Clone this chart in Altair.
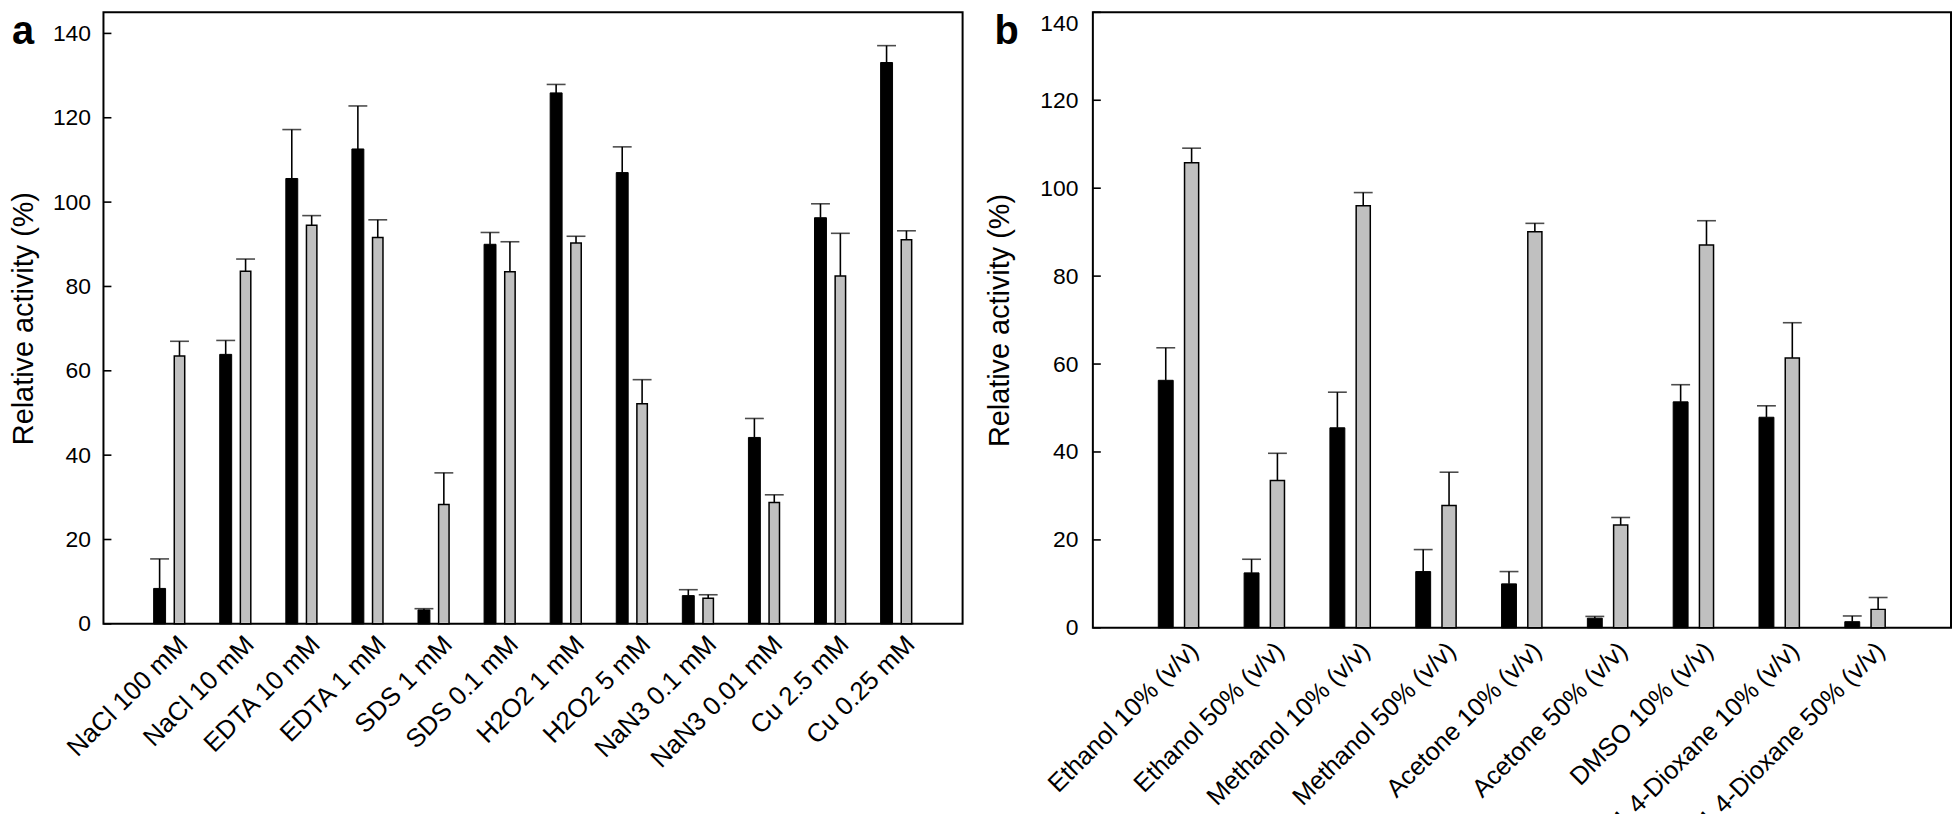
import altair as alt
import pandas as pd

# ---------------- data ----------------
a_cats = ["NaCl 100 mM", "NaCl 10 mM", "EDTA 10 mM", "EDTA 1 mM", "SDS 1 mM",
          "SDS 0.1 mM", "H2O2 1 mM", "H2O2 5 mM", "NaN3 0.1 mM", "NaN3 0.01 mM",
          "Cu 2.5 mM", "Cu 0.25 mM"]
a_black = [8.4, 63.9, 105.6, 112.6, 3.3, 90.0, 125.9, 107.0, 6.7, 44.2, 96.3, 133.1]
a_black_err = [7.0, 3.3, 11.6, 10.2, 0.3, 2.8, 2.0, 6.1, 1.4, 4.5, 3.3, 4.0]
a_grey = [63.5, 83.6, 94.5, 91.6, 28.3, 83.5, 90.3, 52.2, 6.1, 28.8, 82.5, 91.1]
a_grey_err = [3.5, 2.9, 2.3, 4.2, 7.5, 7.1, 1.6, 5.7, 0.8, 1.8, 10.1, 2.1]

b_cats = ["Ethanol 10% (v/v)", "Ethanol 50% (v/v)", "Methanol 10% (v/v)",
          "Methanol 50% (v/v)", "Acetone 10% (v/v)", "Acetone 50% (v/v)",
          "DMSO 10% (v/v)", "1,4-Dioxane 10% (v/v)", "1,4-Dioxane 50% (v/v)"]
b_black = [56.3, 12.5, 45.5, 12.8, 10.0, 2.2, 51.4, 47.9, 1.4]
b_black_err = [7.4, 3.1, 8.1, 5.0, 2.8, 0.4, 3.9, 2.6, 1.3]
b_grey = [105.8, 33.5, 96.0, 27.8, 90.1, 23.4, 87.1, 61.4, 4.2]
b_grey_err = [3.3, 6.2, 3.0, 7.6, 1.9, 1.7, 5.5, 8.0, 2.7]

y_ticks = [0, 20, 40, 60, 80, 100, 120, 140]
y_title = "Relative activity (%)"
FONT = "Liberation Sans"


def panel(cats, black, berr, grey, gerr, *, w, h, ymax, bw, gw, off, cap,
          xfont, xangle, xoff, xpad, ypad, title_x, label, label_x, flush_top):
    xs = alt.Scale(domain=cats, paddingInner=0, paddingOuter=0.5)
    ys = alt.Scale(domain=[0, ymax], nice=False, zero=True)
    xaxis = alt.Axis(title=None, labelAngle=xangle, labelAlign="right",
                     labelBaseline="top", ticks=False, tickSize=0, domain=False,
                     labelPadding=xpad, labelOffset=xoff, labelFontSize=xfont,
                     labelLimit=600, labelColor="black", labelFont=FONT)
    ykw = dict(values=y_ticks, ticks=False, tickSize=0, domain=False, grid=False,
               labelPadding=ypad, labelFontSize=23, labelColor="black",
               labelFont=FONT, title=y_title, titleFontSize=29,
               titleFontWeight="normal", titleFont=FONT, titleColor="black",
               titleX=title_x, titleY=h / 2, titleAngle=-90,
               titleBaseline="bottom", titleAlign="center")
    if flush_top:
        ykw["labelBaseline"] = {"condition": {"test": "datum.value == 140",
                                              "value": "top"},
                                "value": "middle"}
    yaxis = alt.Axis(**ykw)

    X = alt.X("cat:N", scale=xs, sort=cats, axis=xaxis)

    def Yv(field):
        return alt.Y(field, scale=ys, axis=yaxis, title=y_title)

    dfb = pd.DataFrame({"cat": cats, "value": black,
                        "upper": [v + e for v, e in zip(black, berr)]})
    dfg = pd.DataFrame({"cat": cats, "value": grey,
                        "upper": [v + e for v, e in zip(grey, gerr)]})

    layers = []
    for df, o in [(dfb, -off), (dfg, off)]:
        rule = alt.Chart(df).mark_rule(xOffset=o, color="black", strokeWidth=1.6).encode(
            x=X, y=Yv("value:Q"), y2="upper:Q")
        capm = alt.Chart(df).mark_tick(xOffset=o, color="black", size=cap,
                                       thickness=1.6).encode(
            x=X, y=Yv("upper:Q"))
        layers += [rule, capm]
    bars_black = alt.Chart(dfb).mark_bar(width=bw, xOffset=-off, fill="black",
                                         stroke="black", strokeWidth=1.0).encode(
        x=X, y=Yv("value:Q"))
    bars_grey = alt.Chart(dfg).mark_bar(width=gw, xOffset=off, fill="#c0c0c0",
                                        stroke="black", strokeWidth=1.5).encode(
        x=X, y=Yv("value:Q"))

    tick_df = pd.DataFrame({"v": y_ticks})
    inticks = alt.Chart(tick_df).mark_rule(color="black", strokeWidth=1.6).encode(
        y=Yv("v:Q"), x=alt.value(0), x2=alt.value(8))

    lab = alt.Chart(pd.DataFrame({"t": [label]})).mark_text(
        align="left", baseline="top", fontSize=40, fontWeight="bold",
        font=FONT, color="black").encode(
        text="t:N", x=alt.value(label_x), y=alt.value(0))

    return alt.layer(bars_black, bars_grey, *layers, inticks, lab).properties(
        width=w, height=h)


pa = panel(a_cats, a_black, a_black_err, a_grey, a_grey_err,
           w=864, h=615, ymax=145, bw=12, gw=10.5, off=10, cap=19,
           xfont=26, xangle=-45, xoff=5, xpad=7, ypad=13, title_x=-65.5,
           label="a", label_x=-92, flush_top=False)
pb = panel(b_cats, b_black, b_black_err, b_grey, b_grey_err,
           w=863, h=619, ymax=140, bw=15, gw=14.2, off=13, cap=19,
           xfont=25.5, xangle=-45, xoff=7, xpad=10, ypad=15, title_x=-78.5,
           label="b", label_x=-99, flush_top=True)

chart = (alt.hconcat(pa, pb, spacing=21)
         .properties(padding=0)
         .configure(font=FONT)
         .configure_view(stroke="black", strokeWidth=2))

chart.save("out.html", embed_options={"renderer": "svg", "actions": False})
